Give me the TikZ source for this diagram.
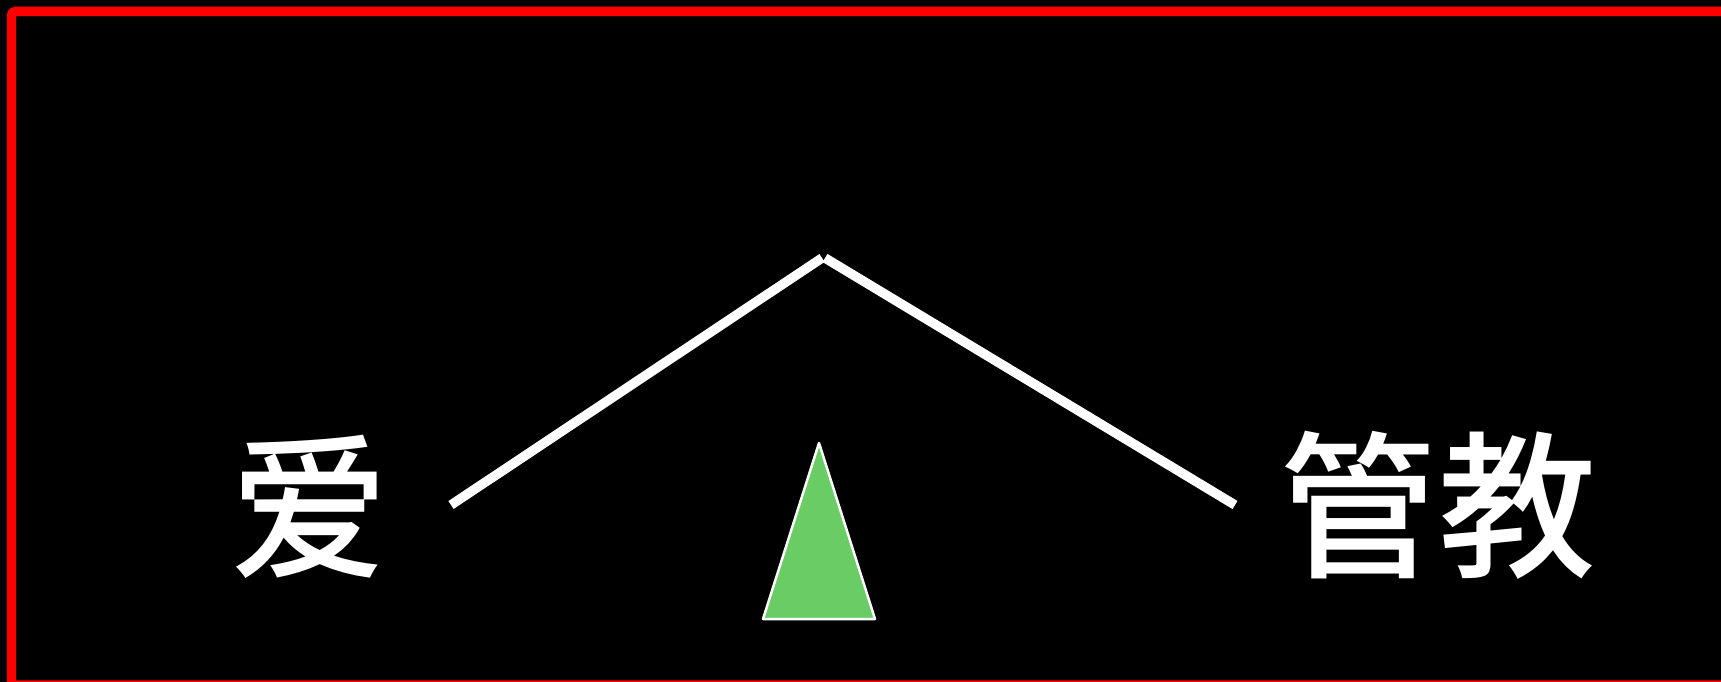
\documentclass[tikz,border=0pt]{standalone}
\usepackage{fontspec}
\newfontfamily\cjk{Noto Sans CJK SC}[BoldFont={* Medium}]
\definecolor{fulcrumgreen}{HTML}{6ACC64}
\definecolor{framered}{HTML}{FF0000}

\begin{document}
\begin{tikzpicture}[
    x=0.02cm, y=-0.02cm,
    beam/.style={white, line width=0.19cm, line cap=butt},
    fulcrum/.style={fill=fulcrumgreen, draw=white, line width=0.05cm, line join=round},
    frame/.style={draw=framered, line width=0.19cm, rounded corners=0.08cm},
    word/.style={text=white, font=\cjk\bfseries\fontsize{90}{90}\selectfont, inner sep=0pt},
]

% ── Canvas ──────────────────────────────────────────────────
\useasboundingbox (0, 0) rectangle (1721, 682);
\fill[black] (0, 0) rectangle (1721, 682);
\begin{scope}
    \clip (0, 0) rectangle (1721, 682);
    \draw[frame] (11.5, 11.5) rectangle (1726, 685);
\end{scope}

% ── Beam ends ───────────────────────────────────────────────
\coordinate (endL)  at (451, 505);
\coordinate (apexL) at (822, 258);
\coordinate (apexR) at (825, 258);
\coordinate (endR)  at (1235, 505);

% Two arms meeting at the top
\draw[beam] (endL) -- (apexL);
\draw[beam] (apexR) -- (endR);

% ── Fulcrum ─────────────────────────────────────────────────
\draw[fulcrum] (819, 443) -- (875, 619) -- (763, 619) -- cycle;

% ── Labels ──────────────────────────────────────────────────
\node[word] (love) at (310, 507) {爱};
\node[word] (discipline) at (1438, 505) {管教};

\end{tikzpicture}
\end{document}
